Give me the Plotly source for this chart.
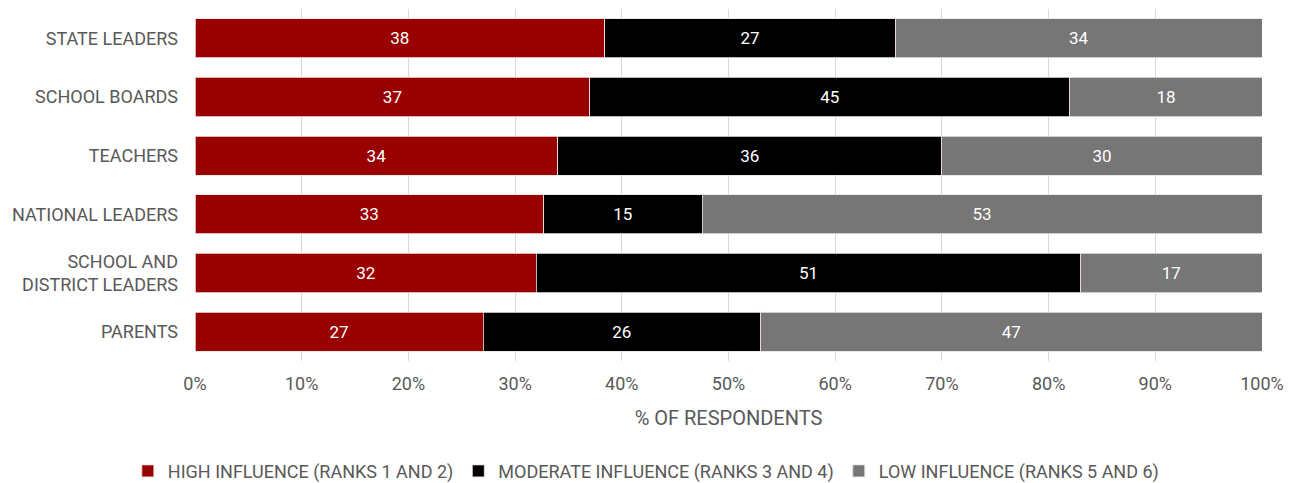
import plotly.graph_objects as go

groups = ["STATE LEADERS", "SCHOOL BOARDS", "TEACHERS", "NATIONAL LEADERS",
          "SCHOOL AND<br>DISTRICT LEADERS", "PARENTS"]
high = [38, 37, 34, 33, 32, 27]
moderate = [27, 45, 36, 15, 51, 26]
low = [34, 18, 30, 53, 17, 47]

series_names = ["HIGH INFLUENCE (RANKS 1 AND 2)",
                "MODERATE INFLUENCE (RANKS 3 AND 4)",
                "LOW INFLUENCE (RANKS 5 AND 6)"]
series_colors = ["#990000", "#000000", "#767676"]

FONT = "Roboto, Arial, sans-serif"
TEXT_GREY = "#595959"

fig = go.Figure()
for name, vals, color in zip(series_names, [high, moderate, low], series_colors):
    fig.add_trace(go.Bar(
        y=groups, x=vals, name=name, orientation="h",
        marker=dict(color=color, line=dict(color="#f0e0e0", width=0.8)),
        text=[str(v) for v in vals],
        textposition="inside", insidetextanchor="middle", textangle=0,
        constraintext="none",
        textfont=dict(color="white", size=17, family=FONT),
        hoverinfo="skip",
    ))

fig.update_layout(
    barmode="stack", barnorm="percent", bargap=0.33,
    width=1293, height=483,
    margin=dict(l=195, r=31, t=9, b=122, autoexpand=False),
    plot_bgcolor="white", paper_bgcolor="white",
    font=dict(family=FONT, size=18, color=TEXT_GREY),
    xaxis=dict(
        range=[0, 100], tickvals=list(range(0, 101, 10)),
        ticktext=[f"{v}%" for v in range(0, 101, 10)],
        showgrid=True, gridcolor="#d9d9d9", gridwidth=1,
        zeroline=False, showline=False, ticks="",
        ticklabelstandoff=10,
        tickfont=dict(size=18, color=TEXT_GREY),
        title=dict(text="% OF RESPONDENTS", font=dict(size=20, color=TEXT_GREY),
                   standoff=17),
    ),
    yaxis=dict(
        autorange="reversed", showgrid=False, zeroline=False, ticks="",
        ticklabelstandoff=16,
        tickfont=dict(size=18, color=TEXT_GREY),
    ),
    legend=dict(
        orientation="h", x=0.423, xanchor="center", y=-0.313, yanchor="middle",
        font=dict(size=18, color=TEXT_GREY), itemwidth=30,
        traceorder="normal",
    ),
)

fig.write_html("out.html")
